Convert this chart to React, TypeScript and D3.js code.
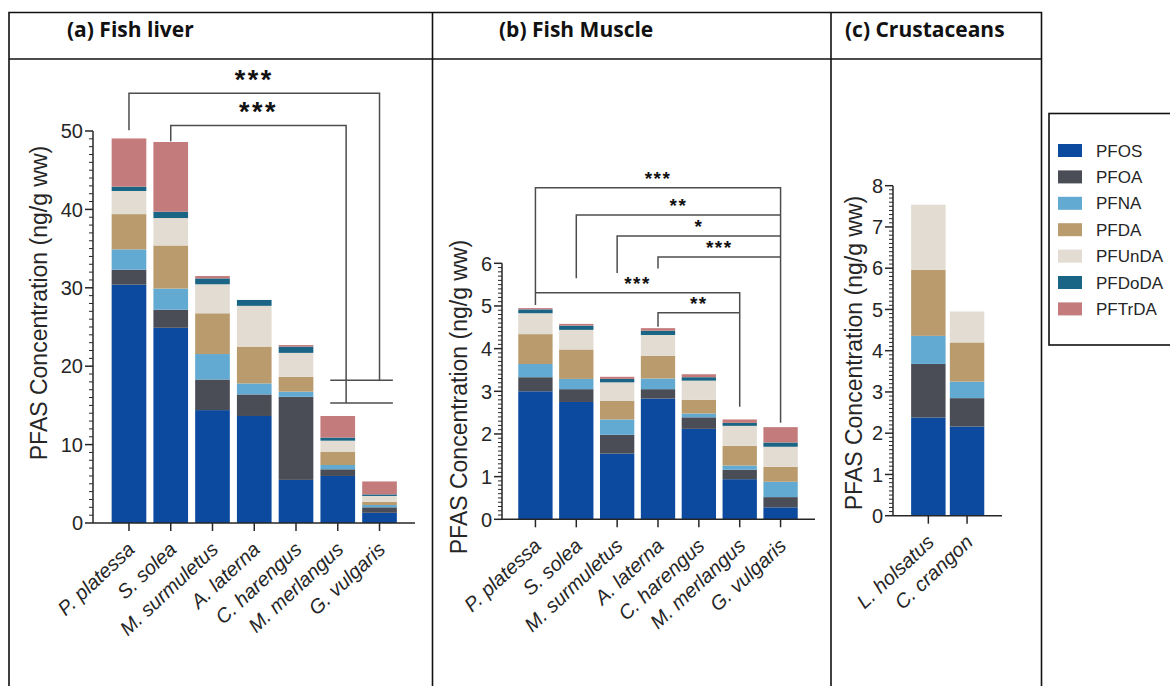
import React from "react";
import * as d3 from "d3";

// ---------- data ----------
const compounds = ["PFOS", "PFOA", "PFNA", "PFDA", "PFUnDA", "PFDoDA", "PFTrDA"];
const compoundColors = ["#0b4a9f", "#4a4d55", "#62aad2", "#b99b6d", "#e2dcd2", "#1a6585", "#c47b7b"];

const fishSpecies = ["P. platessa", "S. solea", "M. surmuletus", "A. laterna", "C. harengus", "M. merlangus", "G. vulgaris"];
const crustaceanSpecies = ["L. holsatus", "C. crangon"];

// (a) Fish liver (ng/g ww)
const liverPFOS = [30.4, 24.9, 14.4, 13.65, 5.5, 6.0, 1.3];
const liverPFOA = [1.9, 2.3, 3.9, 2.75, 10.6, 0.85, 0.7];
const liverPFNA = [2.6, 2.7, 3.25, 1.4, 0.65, 0.55, 0.3];
const liverPFDA = [4.5, 5.5, 5.2, 4.7, 1.9, 1.7, 0.4];
const liverPFUnDA = [2.95, 3.5, 3.7, 5.2, 3.05, 1.4, 0.75];
const liverPFDoDA = [0.55, 0.8, 0.75, 0.75, 0.8, 0.4, 0.2];
const liverPFTrDA = [6.15, 8.9, 0.3, 0, 0.2, 2.75, 1.65];

// (b) Fish muscle (ng/g ww)
const musclePFOS = [3.0, 2.75, 1.54, 2.83, 2.12, 0.94, 0.28];
const musclePFOA = [0.33, 0.3, 0.44, 0.22, 0.27, 0.22, 0.24];
const musclePFNA = [0.31, 0.24, 0.36, 0.25, 0.09, 0.1, 0.36];
const musclePFDA = [0.7, 0.69, 0.44, 0.53, 0.32, 0.46, 0.35];
const musclePFUnDA = [0.49, 0.46, 0.43, 0.49, 0.45, 0.47, 0.47];
const musclePFDoDA = [0.09, 0.1, 0.08, 0.1, 0.08, 0.07, 0.1];
const musclePFTrDA = [0.03, 0.04, 0.05, 0.06, 0.07, 0.08, 0.36];

// (c) Crustaceans (ng/g ww)
const crustPFOS = [2.38, 2.16];
const crustPFOA = [1.3, 0.69];
const crustPFNA = [0.68, 0.4];
const crustPFDA = [1.6, 0.95];
const crustPFUnDA = [1.58, 0.75];
const crustPFDoDA = [0, 0];
const crustPFTrDA = [0, 0];

const liverTicks = [0, 10, 20, 30, 40, 50];
const muscleTicks = [0, 1, 2, 3, 4, 5, 6];
const crustTicks = [0, 1, 2, 3, 4, 5, 6, 7, 8];

const panelTitles = ["(a) Fish liver", "(b) Fish Muscle", "(c) Crustaceans"];
const yTitle = "PFAS Concentration (ng/g ww)";

type Bracket = { from: number; to: number; level: number; dropFrom: number; dropTo: number; label: string };

const liverBrackets: Bracket[] = [
  { from: 0, to: 6, level: 54.8, dropFrom: 50.1, dropTo: 18.2, label: "***" },
  { from: 1, to: 5.2, level: 50.7, dropFrom: 48.7, dropTo: 15.3, label: "***" },
];
const liverGroupLevels = [18.2, 15.3];

const muscleBrackets: Bracket[] = [
  { from: 0, to: 6, level: 7.77, dropFrom: 5.02, dropTo: 2.26, label: "***" },
  { from: 1, to: 6, level: 7.13, dropFrom: 5.65, dropTo: 7.13, label: "**" },
  { from: 2, to: 6, level: 6.64, dropFrom: 5.77, dropTo: 6.64, label: "*" },
  { from: 3, to: 6, level: 6.15, dropFrom: 5.88, dropTo: 6.15, label: "***" },
  { from: 0, to: 5, level: 5.31, dropFrom: 5.31, dropTo: 2.64, label: "***" },
  { from: 3, to: 5, level: 4.84, dropFrom: 4.51, dropTo: 4.84, label: "**" },
];

const FONT = "'Liberation Sans', Arial, sans-serif";
const INK = "#262626";

type PanelProps = {
  cats: string[];
  series: number[][];
  ticks: number[];
  minorStep: number;
  yBottom: number;
  yTop: number;
  bandRange: [number, number];
  padding: number;
  axisX: number;
  axisEnd: number;
  labelPos: [number, number];
  brackets?: Bracket[];
  groupLevels?: number[];
  starSize?: number;
  starSpacing?: number;
  starGap?: number;
};

function Panel(p: PanelProps) {
  const maxV = p.ticks[p.ticks.length - 1];
  const y = d3.scaleLinear().domain([0, maxV]).range([p.yBottom, p.yTop]);
  const x = d3
    .scaleBand<string>()
    .domain(p.cats)
    .range(p.bandRange)
    .paddingInner(p.padding)
    .paddingOuter(p.padding / 2);
  const bw = x.bandwidth();
  const step = x.step();
  const cx = (i: number) => {
    const f = Math.floor(i);
    return (x(p.cats[f]) as number) + bw / 2 + (i - f) * step;
  };
  const rows = p.cats.map((c, i) => {
    const r: Record<string, any> = { cat: c };
    compounds.forEach((k, j) => (r[k] = p.series[j][i]));
    return r;
  });
  const stacked = d3.stack<Record<string, any>>().keys(compounds)(rows);
  const minors = d3.range(0, maxV + 1e-9, p.minorStep).filter(
    (v) => !p.ticks.some((t) => Math.abs(t - v) < 1e-6)
  );
  const y0 = y(0);
  return (
    <g>
      {stacked.map((layer, li) => (
        <g key={li} fill={compoundColors[li]}>
          {layer.map((d, i) => {
            const h = y(d[0]) - y(d[1]);
            if (h <= 0) return null;
            return <rect key={i} x={x(p.cats[i])} y={y(d[1])} width={bw} height={h} />;
          })}
        </g>
      ))}
      {/* y axis */}
      <line x1={p.axisX} x2={p.axisX} y1={y0} y2={y(maxV)} stroke={INK} strokeWidth={1.5} />
      {p.ticks.map((t) => (
        <g key={t}>
          <line x1={p.axisX - 8} x2={p.axisX} y1={y(t)} y2={y(t)} stroke={INK} strokeWidth={1.5} />
          <text x={p.axisX - 10} y={y(t)} dy="0.36em" textAnchor="end" fontSize={20} fontFamily={FONT} fill={INK}>
            {t}
          </text>
        </g>
      ))}
      {minors.map((m, i) => (
        <line key={i} x1={p.axisX - 4} x2={p.axisX} y1={y(m)} y2={y(m)} stroke={INK} strokeWidth={1} />
      ))}
      {/* x axis */}
      <line x1={p.axisX} x2={p.axisEnd} y1={y0} y2={y0} stroke={INK} strokeWidth={1.5} />
      {p.cats.map((c, i) => (
        <g key={c}>
          <line x1={cx(i)} x2={cx(i)} y1={y0} y2={y0 + 8} stroke={INK} strokeWidth={1.5} />
          <text
            transform={`translate(${cx(i) + 7},${y0 + 28}) rotate(-43)`}
            textAnchor="end"
            fontSize={20}
            fontStyle="italic"
            fontFamily={FONT}
            fill={INK}
          >
            {c}
          </text>
        </g>
      ))}
      <text
        transform={`translate(${p.labelPos[0]},${p.labelPos[1]}) rotate(-90)`}
        textAnchor="middle"
        dy="0.35em"
        fontSize={23}
        fontFamily={FONT}
        fill={INK}
      >
        {yTitle}
      </text>
      {/* significance brackets */}
      {(p.brackets || []).map((b, i) => {
        const xa = cx(b.from);
        const xb = cx(b.to);
        const yl = y(b.level);
        return (
          <g key={i}>
            <path
              d={`M${xa},${y(b.dropFrom)}V${yl}H${xb}V${y(b.dropTo)}`}
              fill="none"
              stroke="#4d4d4d"
              strokeWidth={1.5}
            />
            <text
              x={(xa + xb) / 2}
              y={yl - (p.starGap || 14) + (p.starSize || 20) * 0.57}
              textAnchor="middle"
              fontSize={p.starSize || 20}
              fontWeight="bold"
              letterSpacing={p.starSpacing || 1}
              fontFamily={FONT}
              fill="#111"
            >
              {b.label}
            </text>
          </g>
        );
      })}
      {(p.groupLevels || []).map((lv, i) => (
        <line
          key={i}
          x1={cx(5) - 0.18 * step}
          x2={cx(6) + 0.32 * step}
          y1={y(lv)}
          y2={y(lv)}
          stroke="#4d4d4d"
          strokeWidth={1.5}
        />
      ))}
    </g>
  );
}

export default function App() {
  const liverSeries = [liverPFOS, liverPFOA, liverPFNA, liverPFDA, liverPFUnDA, liverPFDoDA, liverPFTrDA];
  const muscleSeries = [musclePFOS, musclePFOA, musclePFNA, musclePFDA, musclePFUnDA, musclePFDoDA, musclePFTrDA];
  const crustSeries = [crustPFOS, crustPFOA, crustPFNA, crustPFDA, crustPFUnDA, crustPFDoDA, crustPFTrDA];
  const titleX = [67, 499, 845];
  const legendY = d3.range(compounds.length).map((i) => 150.5 + i * 26.4);
  return (
    <svg
      width={1170}
      height={686}
      style={{ position: "absolute", left: 0, top: 0, background: "#fff" }}
      xmlns="http://www.w3.org/2000/svg"
    >
      <rect x={0} y={0} width={1170} height={686} fill="#fff" />
      {/* table frame */}
      <g stroke="#111" strokeWidth={1.6} fill="none">
        <path d="M9,700V12.5H1041.5V700" />
        <line x1={9} x2={1041.5} y1={59} y2={59} />
        <line x1={432.5} x2={432.5} y1={12.5} y2={700} />
        <line x1={831} x2={831} y1={12.5} y2={700} />
      </g>
      {panelTitles.map((t, i) => (
        <text key={t} x={titleX[i]} y={37} fontSize={21} fontWeight="bold" fontFamily="'Open Sans', sans-serif" fill="#111">
          {t}
        </text>
      ))}
      <Panel
        cats={fishSpecies}
        series={liverSeries}
        ticks={liverTicks}
        minorStep={1}
        yBottom={523}
        yTop={131}
        bandRange={[108.1, 400.4]}
        padding={0.17}
        axisX={93}
        axisEnd={415}
        labelPos={[38.5, 303]}
        brackets={liverBrackets}
        groupLevels={liverGroupLevels}
        starSize={27}
        starSpacing={2.5}
        starGap={20}
      />
      <Panel
        cats={fishSpecies}
        series={muscleSeries}
        ticks={muscleTicks}
        minorStep={0.1}
        yBottom={519.3}
        yTop={263.3}
        bandRange={[515, 801]}
        padding={0.16}
        axisX={502}
        axisEnd={815}
        labelPos={[459, 397]}
        brackets={muscleBrackets}
        starSize={19}
        starSpacing={1.5}
        starGap={14}
      />
      <Panel
        cats={crustaceanSpecies}
        series={crustSeries}
        ticks={crustTicks}
        minorStep={0.1}
        yBottom={515.7}
        yTop={185.7}
        bandRange={[909, 986.4]}
        padding={0.11}
        axisX={893}
        axisEnd={1002}
        labelPos={[853.5, 353]}
      />
      {/* legend */}
      <rect x={1049} y={113.5} width={160} height={231.5} fill="#fff" stroke="#111" strokeWidth={1.6} />
      {compounds.map((c, i) => (
        <g key={c}>
          <rect x={1058} y={legendY[i] - 6.5} width={24} height={13} fill={compoundColors[i]} />
          <text x={1096} y={legendY[i]} dy="0.36em" fontSize={17} fontFamily={FONT} fill={INK}>
            {c}
          </text>
        </g>
      ))}
    </svg>
  );
}
